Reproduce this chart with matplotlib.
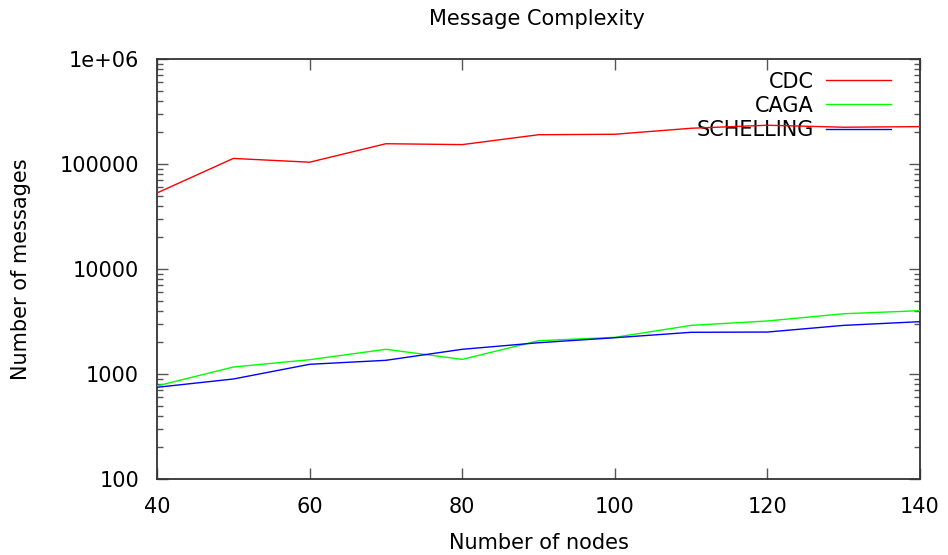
import matplotlib.pyplot as plt
from matplotlib.ticker import FixedLocator, FuncFormatter, LogLocator, NullFormatter

nodes = [40, 50, 60, 70, 80, 90, 100, 110, 120, 130, 140]
cdc = [53000, 113000, 104000, 156000, 153000, 190000, 192000, 219000, 234000, 224000, 227000]
caga = [770, 1166, 1368, 1719, 1378, 2075, 2235, 2905, 3200, 3750, 4010]
schelling = [747, 896, 1237, 1350, 1719, 1985, 2215, 2495, 2510, 2905, 3150]

y_ticks = [100, 1000, 10000, 100000, 1000000]
y_labels = ['100', '1000', '10000', '100000', '1e+06']

plt.rcParams.update({'font.family': 'DejaVu Sans', 'font.size': 15})

fig = plt.figure(figsize=(9.48, 5.55), dpi=100)
ax = fig.add_axes([157/948, 1 - 479/555, (920 - 157)/948, (479 - 59)/555])

ax.plot(nodes, cdc, color='#ff0000', lw=1, label='CDC', zorder=3)
ax.plot(nodes, caga, color='#00ff00', lw=1, label='CAGA', zorder=3)
ax.plot(nodes, schelling, color='#0000ff', lw=1, label='SCHELLING', zorder=3)

ax.set_yscale('log')
ax.set_xlim(40, 140)
ax.set_ylim(100, 1e6)
ax.set_xticks(range(40, 141, 20))
ax.yaxis.set_major_locator(FixedLocator(y_ticks))
ax.yaxis.set_major_formatter(FuncFormatter(lambda v, p: y_labels[y_ticks.index(v)] if v in y_ticks else ''))
ax.yaxis.set_minor_locator(LogLocator(base=10, subs=range(2, 10)))
ax.yaxis.set_minor_formatter(NullFormatter())

ax.tick_params(which='both', direction='in', top=True, right=True, width=1, colors='#555555', labelcolor='black')
ax.tick_params(which='major', length=8, pad=13)
ax.tick_params(which='minor', length=4)
for s in ax.spines.values():
    s.set_linewidth(1.3)
    s.set_color('#333333')

ax.set_xlabel('Number of nodes')
ax.xaxis.set_label_coords(0.5, -0.128)
ax.set_ylabel('Number of messages')
ax.yaxis.set_label_coords(-0.165, 0.5)
fig.text(537/948, 1 - 19/555, 'Message Complexity', ha='center', va='center', fontsize=15)

leg = ax.legend(loc='upper right', frameon=False, markerfirst=False, handlelength=3.1,
                labelspacing=0.2, fontsize=15, borderaxespad=0, handletextpad=0.6,
                bbox_to_anchor=(0.973, 0.99), bbox_transform=ax.transAxes)
leg.set_zorder(2)

fig.savefig('out.png', dpi=100)
